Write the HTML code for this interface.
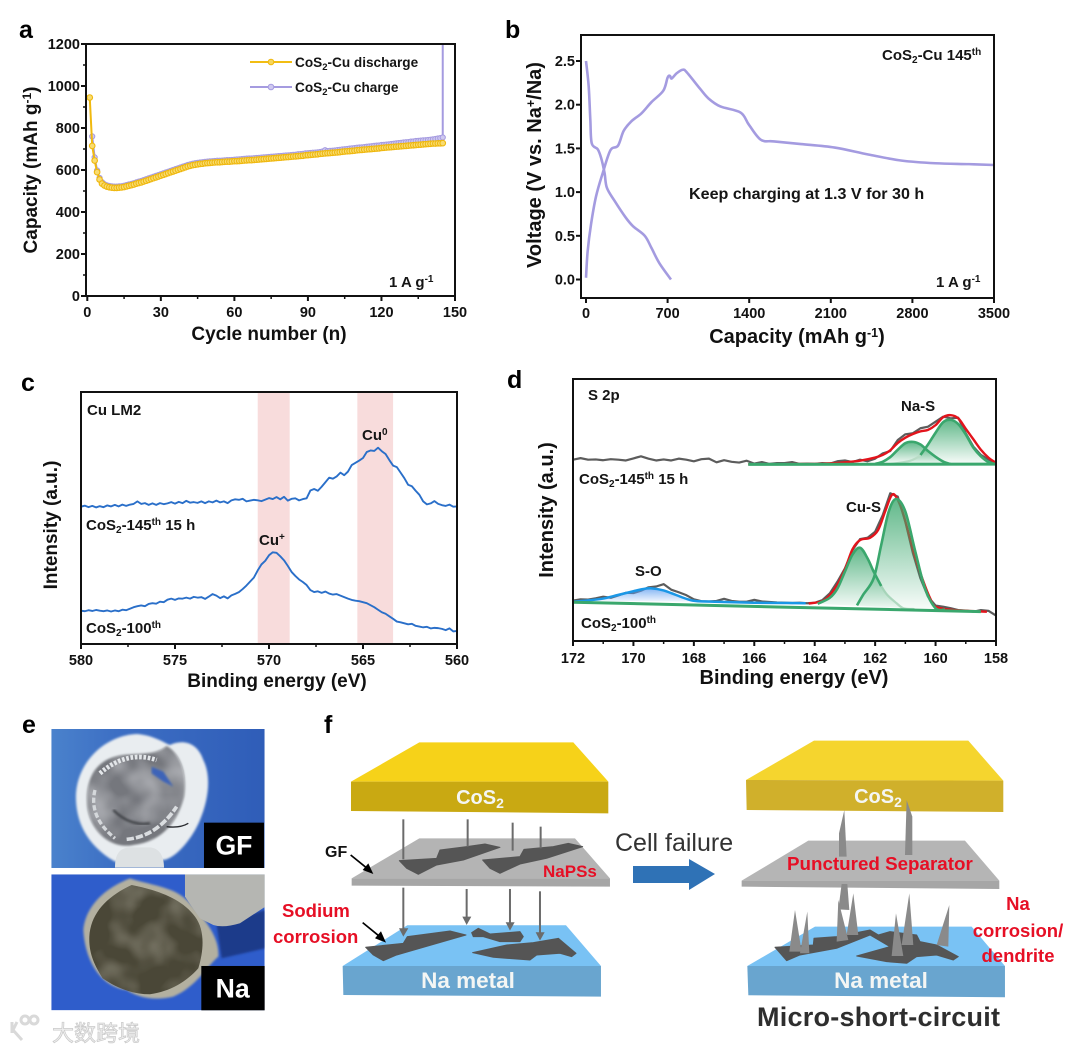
<!DOCTYPE html>
<html lang="en">
<head>
<meta charset="utf-8">
<title>CoS2-Cu sodium cell failure figure</title>
<style>
html,body{margin:0;padding:0;background:#fff}
svg{display:block}
text{font-family:"Liberation Sans","Noto Sans CJK SC",sans-serif;fill:#111}
.b{font-weight:700}
.panel{font-size:25px;font-weight:700;fill:#000}
.tick{font-size:14.5px;font-weight:700;fill:#111}
.title{font-size:19px;font-weight:700;fill:#111}
.title20{font-size:20px;font-weight:700;fill:#111}
.note{font-size:13.6px;font-weight:700;fill:#151515}
.note15{font-size:15px;font-weight:700;fill:#151515}
.red{font-weight:700;fill:#e60f25}
.wh{font-weight:700;fill:#f4f6f4;text-anchor:middle;font-size:20px}
.wh2{font-weight:700;fill:#f4f6f4;text-anchor:middle;font-size:22.5px}
</style>
</head>
<body>
<svg id="fig" xmlns="http://www.w3.org/2000/svg" width="1080" height="1053" viewBox="0 0 1080 1053">
<defs>
  <clipPath id="clipA"><rect x="86" y="44" width="369" height="252"/></clipPath>
  <clipPath id="clipB"><rect x="581" y="35" width="413" height="263"/></clipPath>
  <clipPath id="clipC"><rect x="81" y="392" width="376" height="252"/></clipPath>
  <clipPath id="clipD"><rect x="573" y="379" width="423" height="262"/></clipPath>
  <clipPath id="clipE1"><rect x="154" y="57" width="640" height="417"/></clipPath>
  <clipPath id="clipE2"><rect x="154" y="493" width="640" height="408"/></clipPath>
  <linearGradient id="greenFill" x1="0" y1="0" x2="0" y2="1"><stop offset="0" stop-color="#3aa76d" stop-opacity=".8"/><stop offset="1" stop-color="#3aa76d" stop-opacity=".03"/></linearGradient>
  <linearGradient id="blueFill" x1="0" y1="0" x2="0" y2="1"><stop offset="0" stop-color="#5c9cf0" stop-opacity=".75"/><stop offset="1" stop-color="#5c9cf0" stop-opacity=".08"/></linearGradient>
  <linearGradient id="gfBg" x1="0" y1="0" x2="1" y2="0"><stop offset="0" stop-color="#4a82cc"/><stop offset=".3" stop-color="#3d6fc4"/><stop offset="1" stop-color="#2f5db8"/></linearGradient>
  <filter id="soft" x="-5%" y="-5%" width="110%" height="110%"><feGaussianBlur stdDeviation="3"/></filter>
  <filter id="softer" x="-20%" y="-20%" width="140%" height="140%"><feGaussianBlur stdDeviation="10"/></filter>
  <filter id="grain" x="0" y="0" width="100%" height="100%">
    <feTurbulence type="fractalNoise" baseFrequency=".012" numOctaves="2" seed="4"/>
    <feColorMatrix type="matrix" values="0 0 0 0 .48  0 0 0 0 .46  0 0 0 0 .38  .9 0 0 0 -.36"/>
    <feComposite in2="SourceGraphic" operator="in"/>
  </filter>
  <filter id="grainGrey" x="0" y="0" width="100%" height="100%">
    <feTurbulence type="fractalNoise" baseFrequency=".012" numOctaves="2" seed="9"/>
    <feColorMatrix type="matrix" values="0 0 0 0 .62  0 0 0 0 .63  0 0 0 0 .66  1.2 0 0 0 -.42"/>
    <feComposite in2="SourceGraphic" operator="in"/>
  </filter>
</defs>

<!-- panel letters -->
<text class="panel" x="19" y="38">a</text>
<text class="panel" x="505" y="38">b</text>
<text class="panel" x="21" y="391">c</text>
<text class="panel" x="507" y="388">d</text>
<text class="panel" x="22" y="733">e</text>
<text class="panel" x="324" y="733">f</text>

<!-- chart a -->
<g id="chartA">
  <g id="a-series" clip-path="url(#clipA)"></g>
  <rect x="86" y="44" width="369" height="252" fill="none" stroke="#111" stroke-width="2"/>
  <g id="a-axes"></g>
  <text class="title" x="269" y="340" text-anchor="middle">Cycle number (n)</text>
  <text class="title" transform="translate(37 170) rotate(-90)" text-anchor="middle">Capacity (mAh g<tspan dy="-6" font-size="12">-1</tspan><tspan dy="6">)</tspan></text>
  <g>
    <line x1="250" y1="62" x2="292" y2="62" stroke="#f2bd13" stroke-width="2"/>
    <circle cx="271" cy="62" r="2.8" fill="#f7d65c" stroke="#efb80f"/>
    <text class="note" x="295" y="67">CoS<tspan dy="3" font-size="9.5">2</tspan><tspan dy="-3">-Cu discharge</tspan></text>
  </g>
  <g>
    <line x1="250" y1="87" x2="292" y2="87" stroke="#a59be0" stroke-width="2"/>
    <circle cx="271" cy="87" r="2.8" fill="#cfc9f0" stroke="#a59be0"/>
    <text class="note" x="295" y="92">CoS<tspan dy="3" font-size="9.5">2</tspan><tspan dy="-3">-Cu charge</tspan></text>
  </g>
  <text class="note15" x="389" y="287">1 A g<tspan dy="-5" font-size="10">-1</tspan></text>
</g>

<!-- chart b -->
<g id="chartB">
  <g id="b-series" clip-path="url(#clipB)"></g>
  <rect x="581" y="35" width="413" height="263" fill="none" stroke="#111" stroke-width="2"/>
  <g id="b-axes"></g>
  <text class="title20" x="797" y="343" text-anchor="middle">Capacity (mAh g<tspan dy="-6" font-size="12.5">-1</tspan><tspan dy="6">)</tspan></text>
  <text class="title20" transform="translate(541 165) rotate(-90)" text-anchor="middle">Voltage (V vs. Na<tspan dy="-6" font-size="12.5">+</tspan><tspan dy="6">/Na)</tspan></text>
  <text class="note15" x="882" y="60">CoS<tspan dy="3" font-size="10">2</tspan><tspan dy="-3">-Cu 145</tspan><tspan dy="-5" font-size="10">th</tspan></text>
  <text x="689" y="199" font-size="16.1" class="b" style="fill:#151515">Keep charging at 1.3 V for 30 h</text>
  <text class="note15" x="936" y="287">1 A g<tspan dy="-5" font-size="10">-1</tspan></text>
</g>

<!-- chart c -->
<g id="chartC">
  <g id="c-bands"></g>
  <g id="c-series" clip-path="url(#clipC)"></g>
  <rect x="81" y="392" width="376" height="252" fill="none" stroke="#111" stroke-width="2"/>
  <g id="c-axes"></g>
  <text class="title" x="277" y="687" text-anchor="middle">Binding energy (eV)</text>
  <text class="title" transform="translate(57 525) rotate(-90)" text-anchor="middle">Intensity (a.u.)</text>
  <text class="note15" x="87" y="415">Cu LM2</text>
  <text class="note15" x="86" y="530">CoS<tspan dy="3" font-size="10">2</tspan><tspan dy="-3">-145</tspan><tspan dy="-5" font-size="10">th</tspan><tspan dy="5"> 15 h</tspan></text>
  <text class="note15" x="362" y="440">Cu<tspan dy="-5" font-size="10">0</tspan></text>
  <text class="note15" x="259" y="545">Cu<tspan dy="-5" font-size="10">+</tspan></text>
  <text class="note15" x="86" y="633">CoS<tspan dy="3" font-size="10">2</tspan><tspan dy="-3">-100</tspan><tspan dy="-5" font-size="10">th</tspan></text>
</g>

<!-- chart d -->
<g id="chartD">
  <g id="d-series" clip-path="url(#clipD)"></g>
  <rect x="573" y="379" width="423" height="262" fill="none" stroke="#111" stroke-width="2"/>
  <g id="d-axes"></g>
  <text class="title20" x="794" y="684" text-anchor="middle">Binding energy (eV)</text>
  <text class="title20" transform="translate(553 510) rotate(-90)" text-anchor="middle">Intensity (a.u.)</text>
  <text class="note15" x="588" y="400">S 2p</text>
  <text class="note15" x="901" y="411">Na-S</text>
  <text class="note15" x="579" y="484">CoS<tspan dy="3" font-size="10">2</tspan><tspan dy="-3">-145</tspan><tspan dy="-5" font-size="10">th</tspan><tspan dy="5"> 15 h</tspan></text>
  <text class="note15" x="846" y="512">Cu-S</text>
  <text class="note15" x="635" y="576">S-O</text>
  <text class="note15" x="581" y="628">CoS<tspan dy="3" font-size="10">2</tspan><tspan dy="-3">-100</tspan><tspan dy="-5" font-size="10">th</tspan></text>
</g>

<!-- panel e photos -->
<g transform="translate(0 710) scale(.3333)">
  <g clip-path="url(#clipE1)">
    <rect x="154" y="57" width="640" height="417" fill="url(#gfBg)"/>
    <path d="M345 455C250 400 225 320 228 250C235 150 320 75 410 72C460 75 495 100 510 105C540 90 590 90 610 150C635 200 625 270 600 330C580 380 530 445 490 450Z" fill="#e9edf0" filter="url(#soft)"/>
    <path d="M262 290C255 200 290 145 370 135C420 130 470 135 500 108C540 130 562 190 552 260C535 330 490 395 400 405C330 420 270 360 262 290Z" fill="#74777d" filter="url(#soft)"/>
    <path d="M262 290C255 200 290 145 370 135C420 130 470 135 500 108C540 130 562 190 552 260C535 330 490 395 400 405C330 420 270 360 262 290Z" fill="#000" filter="url(#grainGrey)"/>
    <path d="M300 190Q380 120 470 150" fill="none" stroke="#e3e6e9" stroke-width="14" stroke-dasharray="8 5"/>
    <path d="M285 240Q265 320 345 385" fill="none" stroke="#d5d8db" stroke-width="10" stroke-dasharray="16 7"/>
    <path d="M380 388Q470 380 530 290" fill="none" stroke="#dadde0" stroke-width="11" stroke-dasharray="22 6"/>
    <path d="M340 300Q390 350 450 340" fill="none" stroke="#404247" stroke-width="7" filter="url(#soft)"/>
    <path d="M500 350Q540 355 565 340" fill="none" stroke="#2a2c30" stroke-width="4"/>
    <path d="M455 170L490 185L520 230L490 215L455 190Z" fill="#3c63b8" filter="url(#soft)"/>
    <path d="M345 473C345 430 360 412 395 412L450 412C480 415 492 440 492 473Z" fill="#dde1e3"/>
  </g>
  <rect x="612" y="338" width="180" height="136" fill="#000"/>
  <text x="702" y="434" text-anchor="middle" font-size="80" class="b" style="fill:#fff">GF</text>
  <g clip-path="url(#clipE2)">
    <rect x="154" y="493" width="640" height="408" fill="#2f5dcb"/>
    <path d="M650 645L796 600L796 715L665 745Z" fill="#1f3a8a" filter="url(#soft)"/>
    <path d="M250 660C255 600 300 540 390 505C450 525 520 530 560 570C610 620 660 680 655 740C620 770 590 830 520 860C460 875 410 860 380 840C300 830 255 750 250 660Z" fill="#b3b0a0" filter="url(#soft)"/>
    <path d="M268 680C272 610 320 560 395 525C470 540 545 565 585 620C615 660 612 720 595 775C560 815 510 845 450 853C400 853 350 835 308 805C283 765 266 730 268 680Z" fill="#4a4737"/>
    <path d="M268 680C272 610 320 560 395 525C470 540 545 565 585 620C615 660 612 720 595 775C560 815 510 845 450 853C400 853 350 835 308 805C283 765 266 730 268 680Z" fill="#000" filter="url(#grain)"/>
    <path d="M555 493L796 493L796 590L720 640Q670 655 640 645L600 625L555 560Z" fill="#b5b6b2"/>
  </g>
  <rect x="604" y="768" width="190" height="133" fill="#000"/>
  <text x="698" y="862" text-anchor="middle" font-size="80" class="b" style="fill:#fff">Na</text>
</g>

<!-- watermark -->
<g>
  <path d="M12 1033V1022M17 1022L13 1030L22 1040M21 1020a4 4 0 1 0 8 0a4 4 0 1 0 -8 0M30 1020a4 4 0 1 0 8 0a4 4 0 1 0 -8 0" fill="none" stroke="#d9d9d9" stroke-width="3"/>
  <text x="52" y="1041" font-size="22" style="fill:#eeeeee;stroke:#c9c9c9;stroke-width:.7">大数跨境</text>
</g>

<!-- panel f left -->
<g transform="translate(320 710) scale(.3333)">
  <polygon points="298,97 760,97 865,215 93,215" fill="#f6d219"/>
  <polygon points="93,215 865,215 865,310 93,303" fill="#c9a912"/>
  <polygon points="298,385 765,385 870,505 95,505" fill="#b4b4b4"/>
  <polygon points="95,505 870,505 870,530 95,527" fill="#a6a6a6"/>
  <polygon points="262,646 738,646 843,768 68,768" fill="#79c2f4"/>
  <polygon points="68,768 843,768 843,860 70,855" fill="#69a5cf"/>
  <g fill="#555" stroke="#555" stroke-linejoin="round" stroke-width="3">
    <polygon points="238,452 350,445 360,420 440,410 495,402 540,412 430,450 350,465 295,493 260,475"/>
    <polygon points="488,450 600,440 612,418 700,410 745,400 788,410 680,445 600,462 540,490 510,475"/>
    <polygon points="137,712 250,700 262,680 390,663 438,675 300,715 230,735 190,752 160,735"/>
    <polygon points="455,668 475,655 510,672 600,665 610,680 600,695 540,695 490,680 460,680"/>
    <polygon points="458,728 560,705 640,698 715,685 768,730 755,740 720,730 650,735 630,750 520,742"/>
  </g>
  <g stroke="#6b6b6b" stroke-width="6">
    <line x1="250" y1="328" x2="250" y2="448"/><line x1="443" y1="328" x2="443" y2="410"/>
    <line x1="578" y1="338" x2="578" y2="422"/><line x1="662" y1="350" x2="662" y2="415"/>
    <line x1="250" y1="533" x2="250" y2="658"/><line x1="440" y1="537" x2="440" y2="622"/>
    <line x1="570" y1="537" x2="570" y2="640"/><line x1="660" y1="544" x2="660" y2="670"/>
  </g>
  <g fill="#6b6b6b">
    <polygon points="237,655 265,655 250,680"/><polygon points="427,620 454,620 440,645"/>
    <polygon points="557,637 584,637 570,662"/><polygon points="647,667 674,667 660,692"/>
  </g>
  <g stroke="#000" stroke-width="5" fill="#000">
    <line x1="92" y1="435" x2="145" y2="478"/><polygon points="160,492 128,480 145,460" stroke="none"/>
    <line x1="128" y1="638" x2="182" y2="682"/><polygon points="198,698 165,685 183,664" stroke="none"/>
  </g>
</g>
<text class="wh" x="480" y="804">CoS<tspan dy="4" font-size="14">2</tspan></text>
<text class="wh2" x="468" y="988">Na metal</text>
<text x="325" y="857" font-size="16" class="b">GF</text>
<text class="red" x="543" y="877" font-size="17">NaPSs</text>
<text class="red" x="282" y="917" font-size="18.5">Sodium</text>
<text class="red" x="273" y="943" font-size="18.5">corrosion</text>

<!-- center arrow -->
<text x="615" y="851" font-size="25" style="fill:#333">Cell failure</text>
<polygon points="633,866 689,866 689,859 715,874 689,890 689,883 633,883" fill="#2f72b6"/>

<!-- panel f right -->
<g transform="translate(690 710) scale(.3333)">
  <polygon points="372,92 835,92 940,212 168,210" fill="#f5d52e"/>
  <polygon points="168,210 940,212 940,306 170,300" fill="#d0b02b"/>
  <polygon points="355,392 825,392 928,512 155,512" fill="#b5b5b5"/>
  <polygon points="155,512 928,512 928,537 155,530" fill="#a6a6a6"/>
  <polygon points="375,650 845,650 945,768 172,768" fill="#79c2f4"/>
  <polygon points="172,768 945,768 945,862 175,856" fill="#69a5cf"/>
  <polygon points="255,712 370,705 372,685 440,680 540,660 565,675 600,665 680,675 690,695 740,705 805,740 790,750 740,735 680,740 650,760 590,755 500,738 600,710 540,675 440,715 330,735 290,752" fill="#555" stroke="#555" stroke-width="3" stroke-linejoin="round"/>
  <g fill="#8a8a8a">
    <polygon points="315,600 298,725 335,725"/><polygon points="352,605 330,730 358,730"/>
    <polygon points="490,550 470,675 505,675"/><polygon points="445,570 440,695 475,690"/>
    <polygon points="455,522 472,522 478,600 445,598"/><polygon points="658,550 635,705 670,705"/>
    <polygon points="618,610 605,738 640,738"/><polygon points="778,585 740,705 775,710"/>
    <polygon points="463,300 470,440 447,440 447,370"/><polygon points="650,270 667,320 667,435 645,435"/>
  </g>
</g>
<text class="wh" x="878" y="803">CoS<tspan dy="4" font-size="14">2</tspan></text>
<text class="red" x="787" y="870" font-size="18.8">Punctured Separator</text>
<text class="wh2" x="881" y="988">Na metal</text>
<text class="red" x="1018" y="910" font-size="18.5" text-anchor="middle">Na</text>
<text class="red" x="1018" y="937" font-size="18.5" text-anchor="middle">corrosion/</text>
<text class="red" x="1018" y="962" font-size="18.5" text-anchor="middle">dendrite</text>
<text x="757" y="1026" font-size="27" class="b" style="fill:#2e2e2e" textLength="243">Micro-short-circuit</text>
</svg>

<script>
// ---- panel a data ----
const dischargeCapacity = [945,715,645,590,555,535,526,521,518,516,515,515,516,517,519,522,525,528,531,535,
538,541,545,549,553,557,561,565,569,573,577,581,585,589,593,597,601,605,609,613,
617,620,623,625,627,629,630,632,633,634,635,636,637,637,638,639,640,640,641,642,
642,643,644,645,646,647,647,648,649,650,651,652,653,654,655,
656,657,658,659,660,661,662,663,664,665,666,667,668,670,671,
672,673,674,675,677,678,679,680,681,682,683,684,685,687,688,
689,690,691,692,694,695,696,697,698,699,700,701,702,703,705,
706,707,708,709,710,711,712,713,714,715,716,717,718,719,720,
721,722,723,724,725,726,726,727,727,728];
const chargeCapacity = [760,660,598,562,542,532,527,524,522,521,521,522,523,525,528,531,534,537,541,
545,548,552,556,560,564,568,572,576,580,584,588,592,596,600,604,608,612,616,620,
624,627,630,632,634,636,637,639,640,641,642,643,644,644,645,646,647,647,648,649,
650,651,652,653,654,655,655,656,657,658,659,660,661,662,663,
664,665,666,667,668,669,670,671,672,673,675,676,677,679,680,
681,682,683,684,686,688,694,690,691,692,693,695,696,698,699,
700,702,703,704,706,707,708,709,711,712,713,715,716,717,719,
720,721,722,724,725,727,728,729,731,732,733,735,736,738,739,
740,741,742,743,744,746,748,750,752,755];
const chargeHoldCapacity = 3500;
const aXTicks = [0,30,60,90,120,150];
const aYTicks = [0,200,400,600,800,1000,1200];

// ---- panel b data ----
const bDischargeCap = [0,23,37,49,101,130,159,179,245,340,403,504,562,628,729];
const bDischargeV = [2.5,2.21,1.83,1.56,1.49,1.39,1.22,1.05,0.90,0.71,0.61,0.50,0.36,0.19,0.0];
const bChargeCap = [0,14,43,86,144,210,274,323,389,475,562,663,700,720,735,778,830,865,980,1052,1153,1326,1398,1499,1614,1844,2133,2421,2709,2997,3285,3500];
const bChargeV = [0.02,0.32,0.63,0.95,1.22,1.48,1.53,1.70,1.81,1.90,2.03,2.16,2.31,2.33,2.30,2.36,2.40,2.37,2.18,2.07,1.98,1.91,1.77,1.60,1.58,1.55,1.51,1.43,1.36,1.33,1.32,1.31];
const bXTicks = [0,700,1400,2100,2800,3500];
const bYTicks = [0,0.5,1,1.5,2,2.5];

// ---- panel c data (580 to 560 eV in 0.2 eV steps) ----
const cTopIntensity = [54.5,54.9,54.3,54.8,54.2,54.7,54.3,55.0,54.6,55.2,54.6,55.3,54.8,55.3,55.6,
56.6,55.6,55.9,55.2,55.8,55.2,55.9,55.5,55.8,56.3,55.7,56.4,55.9,56.8,56.1,
56.3,56.0,56.6,55.9,56.6,56.2,56.9,56.2,56.6,55.9,57.0,57.4,57.2,57.6,56.6,
56.9,57.2,57.0,56.7,57.3,57.9,57.5,58.3,57.4,58.4,56.9,57.6,57.8,57.0,57.5,
57.8,60.9,61.5,60.8,62.4,64.2,66.0,65.6,66.5,68.0,67.0,68.4,71.0,71.9,72.8,
73.8,76.2,76.8,76.6,77.9,76.5,75.4,73.0,70.8,70.2,68.0,65.8,63.2,62.6,60.8,
59.2,56.6,55.4,55.8,56.7,55.6,55.1,54.8,55.3,54.5,54.6];
const cBottomIntensity = [13.2,13.0,13.4,13.1,13.5,13.2,13.0,13.3,12.9,13.3,13.0,13.6,13.4,14.0,14.6,
15.0,15.3,15.0,15.9,16.2,16.0,16.8,16.6,17.6,18.0,17.5,18.1,18.0,18.4,18.0,
18.7,18.4,18.6,17.9,18.8,19.8,19.2,18.2,18.9,18.1,19.3,19.9,20.6,21.8,23.2,
24.8,26.4,29.2,31.6,33.0,35.2,36.4,36.2,34.8,33.2,31.0,28.6,27.0,25.6,24.6,
23.4,21.4,20.6,20.9,20.3,20.8,20.0,19.6,19.8,19.2,18.6,18.0,17.5,17.2,17.0,
16.6,16.2,15.4,14.6,13.6,12.6,12.0,11.0,10.0,8.9,8.6,8.2,7.8,8.0,7.2,
6.9,6.6,6.8,6.2,6.4,6.3,6.0,5.5,6.2,5.0,5.2];
const cBandEnergies = [[570.6,568.9],[565.3,563.4]];
const cXTicks = [580,575,570,565,560];

// ---- panel d data (172 to 158 eV raw traces in 0.25 eV steps) ----
const dTopRaw = [69.2,69.8,69.2,69.3,69.0,69.4,69.2,68.9,69.7,70.5,69.6,68.9,69.3,68.9,69.6,69.2,68.6,69.4,69.6,68.2,
69.0,68.4,68.1,68.8,67.7,68.3,67.6,67.9,67.9,68.3,67.6,67.7,67.6,67.9,67.7,68.6,68.9,68.3,69.2,68.6,
69.6,71.6,72.5,76.7,78.9,79.3,81.2,81.8,83.7,85.6,85.0,85.2,79.3,74.2,71.0,69.3,67.8];
const dBottomRaw = [15.4,15.9,15.8,16.3,16.9,16.5,17.4,18.4,18.3,19.2,20.5,20.8,21.7,19.6,18.6,17.5,15.9,15.2,15.1,15.3,
16.1,15.3,15.0,15.0,15.7,15.1,14.9,14.7,14.6,14.5,14.6,14.4,14.6,15.6,18.2,22.6,27.7,34.7,38.9,39.4,
41.7,48.0,56.4,55.1,45.5,33.5,23.9,16.9,13.5,13.1,12.5,11.8,11.6,11.2,11.8,11.5,9.7];
const dTopFitE = [166.2,165,164,163.5,163,162.5,162,161.75,161.5,161.25,161,160.75,160.5,160.25,160,159.75,159.5,159.25,159,158.75,158.5,158.25,158];
const dTopFitI = [67.5,67.5,67.6,67.8,68.2,68.8,70,71,72.8,75.6,77.6,79,80,80.6,82.4,85.4,86.2,85,81,77,73,70,68];
const dNaS1E = [162,161.75,161.5,161.25,161,160.75,160.5,160.25,160,159.75,159.5];
const dNaS1I = [67.6,68.4,70.2,73,75.5,76,75,72.5,70.3,68.5,67.5];
const dNaS2E = [161.5,161,160.75,160.5,160.25,160,159.75,159.5,159.25,159,158.75,158.5,158.25,158];
const dNaS2I = [67.5,68.4,69.2,71,75,79.5,83.5,84.4,82.8,78.8,73.8,70.5,68.3,67.5];
const dTopBaseE = [166.2,158];
const dTopBaseI = [67.4,67.5];
const dBottomFitE = [164.2,163.75,163.5,163.25,163,162.75,162.5,162.17,161.9,161.67,161.45,161.28,161.06,160.7,160.4,160.18,160,159.4,158.3];
const dBottomFitI = [14.3,15.2,17.5,21.5,27.3,35,38.5,39.4,42.4,49.4,55.7,54.5,48.1,32.8,22.6,16.3,13.1,11.8,11.2];
const dCuS1E = [163.9,163.5,163.25,163,162.75,162.5,162.25,162.05,161.8,161.6,161.3,161.06,160.7];
const dCuS1I = [14.2,16.5,20,26.5,33,35.6,31.5,26.5,21,17.6,14.5,12.5,12.2];
const dCuS2E = [162.6,162.4,162.05,161.8,161.55,161.3,161,160.67,160.35,160,159.7];
const dCuS2I = [13.6,17.6,23.9,36.6,49.4,54.2,49.4,34.1,20.1,12.5,12];
const dSOE = [171.5,171,170.5,170,169.7,169.4,169,168.6,168.2,167.9];
const dSOI = [15.4,16.1,17.5,19,19.8,20.1,19.3,17.6,15.8,15];
const dBlueFitE = [172,171.5,171,170.5,170,169.7,169.4,169,168.6,168.2,167.9,167,166,165,164.3];
const dBlueFitI = [15,15.5,16.2,17.6,19,19.8,20.1,19.3,17.6,15.9,15.2,14.9,14.6,14.5,14.4];
const dBottomBaseE = [172,158.5];
const dBottomBaseI = [14.8,11.2];
const dXTicks = [172,170,168,166,164,162,160,158];

// ---- axis functions ----
const xA = v => 87.3 + v * (455 - 87.3) / 150;
const yA = v => 296 - v * 252 / 1200;
const xB = v => 586 + v * (994 - 586) / 3500;
const yB = v => 279.5 - v * (279.5 - 61) / 2.5;
const xC = v => 81 + (580 - v) * 376 / 20;
const yC = v => 644 - v * 2.52;
const xD = v => 573 + (172 - v) * 423 / 14;
const yD = v => 641 - v * 2.62;

const SVGNS = 'http://www.w3.org/2000/svg';
function make(parent, tag, attrs) {
  const el = document.createElementNS(SVGNS, tag);
  for (const k in attrs) el.setAttribute(k, attrs[k]);
  parent.appendChild(el);
  return el;
}
function pathFrom(xs, ys, fx, fy) {
  return xs.map((x, i) => (i ? 'L' : 'M') + fx(x).toFixed(2) + ' ' + fy(ys[i]).toFixed(2)).join('');
}
// Smooth line through the data points (the originals are dense curves).
function smoothFrom(xs, ys, fx, fy) {
  const p = xs.map((x, i) => [fx(x), fy(ys[i])]);
  let d = 'M' + p[0][0].toFixed(2) + ' ' + p[0][1].toFixed(2);
  for (let i = 0; i < p.length - 1; i++) {
    const a = p[Math.max(i - 1, 0)], b = p[i], c = p[i + 1], e = p[Math.min(i + 2, p.length - 1)];
    d += 'C' + (b[0] + (c[0] - a[0]) / 6).toFixed(2) + ' ' + (b[1] + (c[1] - a[1]) / 6).toFixed(2) + ' ' +
         (c[0] - (e[0] - b[0]) / 6).toFixed(2) + ' ' + (c[1] - (e[1] - b[1]) / 6).toFixed(2) + ' ' +
         c[0].toFixed(2) + ' ' + c[1].toFixed(2);
  }
  return d;
}
function xTicks(group, ticks, fx, y0, minors, labelY) {
  ticks.forEach(t => {
    const tick = make(group, 'line', {x1: fx(t), x2: fx(t), y1: y0, y2: y0 + 5, stroke: '#111', 'stroke-width': 2});
    
    
    const label = make(group, 'text', {x: fx(t), y: labelY, 'text-anchor': 'middle', class: 'tick'});
    label.textContent = String(t);
    
    
  });
  minors.forEach(t => {
    const tick = make(group, 'line', {x1: fx(t), x2: fx(t), y1: y0, y2: y0 + 3, stroke: '#111', 'stroke-width': 1.5});
    
    
  });
}
function yTicks(group, ticks, fy, x0, minors, labelX, fmt) {
  ticks.forEach(t => {
    const tick = make(group, 'line', {x1: x0 - 5, x2: x0, y1: fy(t), y2: fy(t), stroke: '#111', 'stroke-width': 2});
    
    
    const label = make(group, 'text', {x: labelX, y: fy(t) + 5, 'text-anchor': 'end', class: 'tick'});
    label.textContent = fmt(t);
    
    
  });
  minors.forEach(t => {
    const tick = make(group, 'line', {x1: x0 - 3, x2: x0, y1: fy(t), y2: fy(t), stroke: '#111', 'stroke-width': 1.5});
    
    
  });
}
function midpoints(ticks) {
  return ticks.slice(1).map((t, i) => (t + ticks[i]) / 2);
}

// ---- draw panel a ----
const aS = document.getElementById('a-series');
const chargeX = chargeCapacity.map((_, i) => i + 2);
const chargeLine = make(aS, 'path', {
  d: pathFrom(chargeX.concat([145]), chargeCapacity.concat([chargeHoldCapacity]), xA, yA),
  fill: 'none', stroke: '#a59be0', 'stroke-width': 2
});


chargeCapacity.forEach((v, i) => {
  const dot = make(aS, 'circle', {cx: xA(chargeX[i]), cy: yA(v), r: 2.6, fill: '#cfc9f0', stroke: '#a59be0', 'stroke-width': 1});
  
  
});
const dischargeX = dischargeCapacity.map((_, i) => i + 1);
const dischargeLine = make(aS, 'path', {
  d: pathFrom(dischargeX, dischargeCapacity, xA, yA),
  fill: 'none', stroke: '#f0b90f', 'stroke-width': 2
});


dischargeCapacity.forEach((v, i) => {
  const dot = make(aS, 'circle', {cx: xA(dischargeX[i]), cy: yA(v), r: 2.8, fill: '#f8dc72', stroke: '#efb80f', 'stroke-width': 1.1});
  
  
});
const aAx = document.getElementById('a-axes');
xTicks(aAx, aXTicks, xA, 296, midpoints(aXTicks), 317);
yTicks(aAx, aYTicks, yA, 86, midpoints(aYTicks), 80, t => String(t));

// ---- draw panel b ----
const bS = document.getElementById('b-series');
const bDis = make(bS, 'path', {d: smoothFrom(bDischargeCap, bDischargeV, xB, yB), fill: 'none', stroke: '#a49be0', 'stroke-width': 2.6, 'stroke-linejoin': 'round'});


const bCha = make(bS, 'path', {d: smoothFrom(bChargeCap, bChargeV, xB, yB), fill: 'none', stroke: '#a49be0', 'stroke-width': 2.6, 'stroke-linejoin': 'round'});


const bAx = document.getElementById('b-axes');
xTicks(bAx, bXTicks, xB, 298, [], 318);
yTicks(bAx, bYTicks, yB, 581, [], 575, t => t.toFixed(1));

// ---- draw panel c ----
const cB = document.getElementById('c-bands');
cBandEnergies.forEach(band => {
  const r = make(cB, 'rect', {x: xC(band[0]), y: 392, width: xC(band[1]) - xC(band[0]), height: 252, fill: '#f8dcdc'});
  
  
});
const cS = document.getElementById('c-series');
const cEnergy = cTopIntensity.map((_, i) => 580 - i * 0.2);
const cTop = make(cS, 'path', {d: pathFrom(cEnergy, cTopIntensity, xC, yC), fill: 'none', stroke: '#2a6fc9', 'stroke-width': 1.9, 'stroke-linejoin': 'round'});


const cBot = make(cS, 'path', {d: pathFrom(cEnergy, cBottomIntensity, xC, yC), fill: 'none', stroke: '#2a6fc9', 'stroke-width': 1.9, 'stroke-linejoin': 'round'});


const cAx = document.getElementById('c-axes');
xTicks(cAx, cXTicks, xC, 644, midpoints(cXTicks), 665);

// ---- draw panel d ----
const dS = document.getElementById('d-series');
function rawTrace(values, name) {
  const e = values.map((_, i) => 172 - i * 0.25);
  const p = make(dS, 'path', {d: pathFrom(e, values, xD, yD), fill: 'none', stroke: '#5c5c5c', 'stroke-width': 2.2, 'stroke-linejoin': 'round'});
  
  
}
function curve(es, is, color, width, name) {
  const p = make(dS, 'path', {d: smoothFrom(es, is, xD, yD), fill: 'none', stroke: color, 'stroke-width': width, 'stroke-linejoin': 'round'});
  
  
}
function peak(es, is, fill, color, name, keep) {
  const area = make(dS, 'path', {d: smoothFrom(es, is, xD, yD) + 'Z', fill: fill, stroke: 'none'});
  
  
  curve(es, is, '#b9dcc6', 2.2, name + '-tail');
  const ke = es.filter(keep);
  const ki = is.filter((_, i) => keep(es[i]));
  curve(ke, ki, color, 2.6, name + '-line');
}
rawTrace(dTopRaw, 'raw-trace-145');
rawTrace(dBottomRaw, 'raw-trace-100');
curve(dTopFitE, dTopFitI, '#e3141c', 2.4, 'fit-envelope-145');
curve(dBottomFitE, dBottomFitI, '#e3141c', 2.4, 'fit-envelope-100');
peak(dNaS1E, dNaS1I, 'url(#greenFill)', '#3aa76d', 'na-s-peak-1', () => true);
peak(dNaS2E, dNaS2I, 'url(#greenFill)', '#3aa76d', 'na-s-peak-2', e => e <= 160.5);
peak(dCuS1E, dCuS1I, 'url(#greenFill)', '#3aa76d', 'cu-s-peak-1', e => e >= 161.8);
peak(dCuS2E, dCuS2I, 'url(#greenFill)', '#3aa76d', 'cu-s-peak-2', () => true);
const soArea = make(dS, 'path', {d: smoothFrom(dSOE, dSOI, xD, yD) + 'Z', fill: 'url(#blueFill)'});


curve(dBlueFitE, dBlueFitI, '#1a97e6', 2.5, 's-o-fit-line');
curve(dTopBaseE, dTopBaseI, '#3aa76d', 3, 'baseline-145');
curve(dBottomBaseE, dBottomBaseI, '#3aa76d', 3, 'baseline-100');
const dAx = document.getElementById('d-axes');
xTicks(dAx, dXTicks, xD, 641, midpoints(dXTicks), 663);
</script>
</body>
</html>
